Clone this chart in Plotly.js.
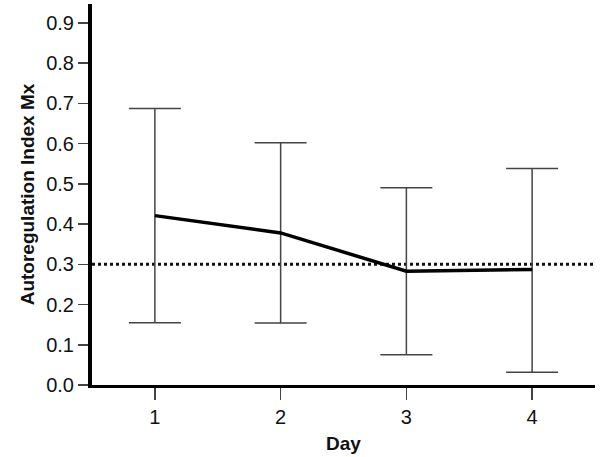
<!DOCTYPE html>
<html>
<head>
<meta charset="utf-8">
<script src="https://cdn.plot.ly/plotly-3.0.1.min.js"></script>
<style>html,body{margin:0;padding:0;background:#fff;}#chart{width:600px;height:457px;}</style>
</head>
<body>
<div id="chart"></div>
<script>
const days = [1, 2, 3, 4];
const meanMx = [0.421, 0.378, 0.283, 0.287];
const upperMx = [0.687, 0.602, 0.490, 0.538];
const lowerMx = [0.155, 0.154, 0.075, 0.032];
const threshold = 0.3;
const yTicks = [0, 0.1, 0.2, 0.3, 0.4, 0.5, 0.6, 0.7, 0.8, 0.9];
const yTickText = ['0.0','0.1','0.2','0.3','0.4','0.5','0.6','0.7','0.8','0.9'];

const errPlus = upperMx.map((u, i) => u - meanMx[i]);
const errMinus = lowerMx.map((l, i) => meanMx[i] - l);

const traces = [
  {
    x: [0.5, 4.5], y: [threshold, threshold],
    mode: 'lines', line: {color: '#111', width: 3, dash: 'dot'},
    hoverinfo: 'skip', showlegend: false
  },
  {
    x: days, y: meanMx, mode: 'lines',
    line: {color: '#000', width: 3.5},
    error_y: {type: 'data', symmetric: false, array: errPlus, arrayminus: errMinus,
              color: '#444', thickness: 1.5, width: 26},
    showlegend: false
  }
];

const fam = 'Liberation Sans, Arial, sans-serif';
const layout = {
  width: 600, height: 457,
  margin: {l: 92, r: 5, t: 4, b: 72},
  paper_bgcolor: '#fff', plot_bgcolor: '#fff',
  font: {family: fam, color: '#111'},
  xaxis: {
    range: [0.5, 4.5], tickvals: days, ticktext: days.map(String),
    ticks: 'outside', ticklen: 12, tickwidth: 1.5, tickcolor: '#444',
    showline: true, linecolor: '#000', linewidth: 3,
    showgrid: false, zeroline: false,
    tickfont: {size: 20, family: fam, color: '#111'},
    title: {text: '<b>Day</b>', font: {size: 19, family: fam, color: '#111'}, standoff: 10}
  },
  yaxis: {
    range: [0, 0.947], tickvals: yTicks, ticktext: yTickText,
    ticks: 'outside', ticklen: 10, tickwidth: 1.5, tickcolor: '#444',
    showline: true, linecolor: '#000', linewidth: 4,
    showgrid: false, zeroline: false,
    tickfont: {size: 20, family: fam, color: '#111'},
    title: {text: '<b>Autoregulation Index Mx</b>', font: {size: 19, family: fam, color: '#111'}, standoff: 8}
  }
};

Plotly.newPlot('chart', traces, layout, {staticPlot: true});
</script>
</body>
</html>
